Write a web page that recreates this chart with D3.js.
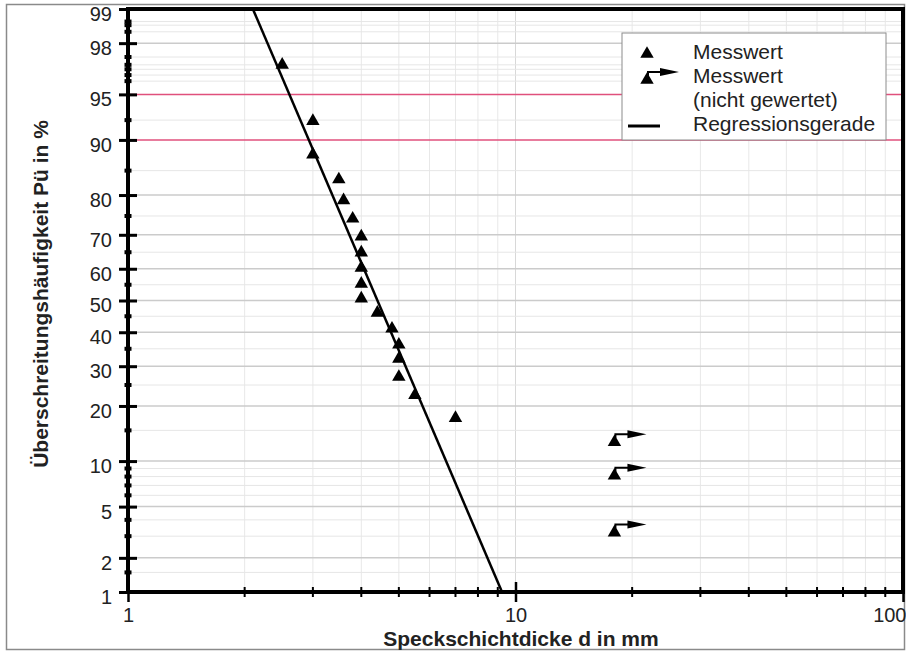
<!DOCTYPE html>
<html>
<head>
<meta charset="utf-8">
<script src="https://cdn.jsdelivr.net/npm/d3@7"></script>
<style>
  body { margin: 0; background: #fff; }
  svg { display: block; font-family: "Liberation Sans", Arial, sans-serif; }
</style>
</head>
<body>
<script>
const width = 906, height = 652;

// Messwerte: Speckschichtdicke d in mm / Überschreitungshäufigkeit Pü in %
const messD = [2.5, 3.0, 3.0, 3.5, 3.6, 3.8, 4.0, 4.0, 4.0, 4.0, 4.0, 4.4, 4.8, 5.0, 5.0, 5.0, 5.5, 7.0];
const messP = [97.0, 92.4, 87.8, 83.3, 78.8, 74.3, 69.5, 64.9, 60.3, 55.3, 50.6, 46.1, 41.1, 36.2, 32.1, 27.1, 22.5, 17.4];
// Messwerte, nicht gewertet
const ngD = [18, 18, 18];
const ngP = [12.9, 8.1, 3.2];
// Regressionsgerade (Endpunkte)
const regD = [2.1, 9.23];
const regP = [99, 1];

const xMajor = [1, 10, 100];
const xMinor = [2, 3, 4, 5, 6, 7, 8, 9, 20, 30, 40, 50, 60, 70, 80, 90];
const yMajor = [1, 2, 5, 10, 20, 30, 40, 50, 60, 70, 80, 90, 95, 98, 99];
const yMinor = [1.5, 3, 4, 6, 7, 8, 9, 15, 25, 35, 45, 55, 65, 75, 85, 92.5, 96, 96.4, 96.75, 97, 97.4, 98.4, 98.6, 98.7];
const redLines = [90, 95];

const legendItems = ["Messwert", "Messwert", "(nicht gewertet)", "Regressionsgerade"];

// inverse normal distribution (Acklam)
function probit(p) {
  const a = [-39.69683028665376, 220.9460984245205, -275.9285104469687, 138.3577518672690, -30.66479806614716, 2.506628277459239];
  const b = [-54.47609879822406, 161.5858368580409, -155.6989798598866, 66.80131188771972, -13.28068155288572];
  const c = [-0.007784894002430293, -0.3223964580411365, -2.400758277161838, -2.549732539343734, 4.374664141464968, 2.938163982698783];
  const d = [0.007784695709041462, 0.3224671290700398, 2.445134137142996, 3.754408661907416];
  const pl = 0.02425;
  if (p < pl) {
    const q = Math.sqrt(-2 * Math.log(p));
    return (((((c[0]*q+c[1])*q+c[2])*q+c[3])*q+c[4])*q+c[5]) / ((((d[0]*q+d[1])*q+d[2])*q+d[3])*q+1);
  }
  if (p > 1 - pl) {
    const q = Math.sqrt(-2 * Math.log(1 - p));
    return -(((((c[0]*q+c[1])*q+c[2])*q+c[3])*q+c[4])*q+c[5]) / ((((d[0]*q+d[1])*q+d[2])*q+d[3])*q+1);
  }
  const q = p - 0.5, r = q * q;
  return (((((a[0]*r+a[1])*r+a[2])*r+a[3])*r+a[4])*r+a[5])*q / (((((b[0]*r+b[1])*r+b[2])*r+b[3])*r+b[4])*r+1);
}

const pl = 128, pr = 903, pt = 9, pb = 592;

const x = d3.scaleLog().domain([1, 100]).range([pl, pr]);
const z = d3.scaleLinear().domain([probit(0.01), probit(0.99)]).range([pb, pt]);
const y = p => z(probit(p / 100));

const svg = d3.select("body").append("svg")
    .attr("width", width)
    .attr("height", height)
    .attr("viewBox", [0, 0, width, height]);

// outer frame
svg.append("rect")
    .attr("x", 6.5).attr("y", 4.5)
    .attr("width", 898).attr("height", 645)
    .attr("fill", "#fff")
    .attr("stroke", "#8a8a8a")
    .attr("stroke-width", 1.5);

// grid
const grid = svg.append("g");
grid.selectAll(".vmin")
  .data(xMinor)
  .join("line")
    .attr("x1", d => x(d)).attr("x2", d => x(d))
    .attr("y1", pt).attr("y2", pb)
    .attr("stroke", "#e8e8e8");
grid.append("line")
    .attr("x1", x(10)).attr("x2", x(10))
    .attr("y1", pt).attr("y2", pb)
    .attr("stroke", "#d8d8d8");
grid.selectAll(".hmin")
  .data(yMinor)
  .join("line")
    .attr("x1", pl).attr("x2", pr)
    .attr("y1", d => y(d)).attr("y2", d => y(d))
    .attr("stroke", "#e6e6e6");
grid.selectAll(".hmaj")
  .data(yMajor.filter(d => !redLines.includes(d)))
  .join("line")
    .attr("x1", pl).attr("x2", pr)
    .attr("y1", d => y(d)).attr("y2", d => y(d))
    .attr("stroke", "#cbcbcb")
    .attr("stroke-width", 1.5);
grid.selectAll(".hred")
  .data(redLines)
  .join("line")
    .attr("x1", pl).attr("x2", pr)
    .attr("y1", d => y(d)).attr("y2", d => y(d))
    .attr("stroke", "#e0507c")
    .attr("stroke-width", 1.5);

// legend box
const lg = svg.append("g");
lg.append("rect")
    .attr("x", 622).attr("y", 33)
    .attr("width", 264).attr("height", 107)
    .attr("fill", "#fff")
    .attr("stroke", "#8c8c8c");

// regression line
svg.append("path")
    .attr("fill", "none")
    .attr("stroke", "#000")
    .attr("stroke-width", 2.5)
    .attr("d", d3.line()(regD.map((d, i) => [x(d), y(regP[i])])));

// axes
const yAxis = svg.append("g")
    .attr("transform", `translate(${pl},0)`)
    .call(d3.axisLeft(z)
      .tickValues(yMajor.map(p => probit(p / 100)))
      .tickFormat((d, i) => yMajor[i])
      .tickSize(9)
      .tickPadding(7))
    .call(g => g.select(".domain").remove())
    .call(g => g.selectAll(".tick line").attr("x2", -9).attr("x1", 9).attr("stroke-width", 3))
    .call(g => g.selectAll(".tick text")
      .attr("y", 5)
      .attr("font-size", 20)
      .attr("font-family", "Liberation Sans, Arial, sans-serif")
      .attr("fill", "#222"));

yAxis.selectAll(".ymin")
  .data(yMinor)
  .join("line")
    .attr("x1", -3.5).attr("x2", 3.5)
    .attr("y1", d => y(d)).attr("y2", d => y(d))
    .attr("stroke", "#000")
    .attr("stroke-width", 4);

const xAxis = svg.append("g")
    .attr("transform", `translate(0,${pb})`)
    .call(d3.axisBottom(x)
      .tickValues(xMajor)
      .tickFormat(d3.format("d"))
      .tickSize(9)
      .tickPadding(7))
    .call(g => g.select(".domain").remove())
    .call(g => g.selectAll(".tick line").attr("y1", -10).attr("y2", 10).attr("stroke-width", 2.5))
    .call(g => g.selectAll(".tick text")
      .attr("font-size", 20)
      .attr("font-family", "Liberation Sans, Arial, sans-serif")
      .attr("fill", "#222"));
xAxis.selectAll(".tick").filter(d => d === 100).select("text")
    .attr("text-anchor", "end").attr("x", 3);

xAxis.selectAll(".xmin")
  .data(xMinor)
  .join("line")
    .attr("x1", d => x(d)).attr("x2", d => x(d))
    .attr("y1", -5).attr("y2", 5)
    .attr("stroke", "#000")
    .attr("stroke-width", 2);

// frame of plot (thick)
svg.append("path")
    .attr("fill", "none")
    .attr("stroke", "#000")
    .attr("stroke-width", 4)
    .attr("d", `M${pl},${pt}H${pr}V${pb}H${pl}Z`);

// markers
const tri = d3.symbol(d3.symbolTriangle, 78);
svg.append("g")
  .selectAll("path")
  .data(messD)
  .join("path")
    .attr("transform", (d, i) => `translate(${x(d)},${y(messP[i])})`)
    .attr("d", tri)
    .attr("fill", "#000");

function arrowMark(g) {
  g.append("path").attr("d", tri).attr("fill", "#000");
  g.append("path")
      .attr("d", "M1,-4V-8H14")
      .attr("fill", "none")
      .attr("stroke", "#000")
      .attr("stroke-width", 2);
  g.append("path")
      .attr("d", "M13,-12L32,-8L13,-4Z")
      .attr("fill", "#000");
}

svg.append("g")
  .selectAll("g")
  .data(ngD)
  .join("g")
    .attr("transform", (d, i) => `translate(${x(d)},${y(ngP[i])})`)
    .each(function() { arrowMark(d3.select(this)); });

// legend content
lg.append("path")
    .attr("transform", "translate(647,54)")
    .attr("d", tri)
    .attr("fill", "#000");
lg.append("g")
    .attr("transform", "translate(647,80)")
    .call(arrowMark);
lg.append("line")
    .attr("x1", 628).attr("x2", 660)
    .attr("y1", 126).attr("y2", 126)
    .attr("stroke", "#000")
    .attr("stroke-width", 3);
lg.selectAll("text")
  .data(legendItems)
  .join("text")
    .attr("x", 693)
    .attr("y", (d, i) => 59 + i * 24)
    .attr("font-size", 21)
    .attr("fill", "#222")
    .text(d => d);

// axis titles
svg.append("text")
    .attr("x", 521).attr("y", 646)
    .attr("text-anchor", "middle")
    .attr("font-size", 21)
    .attr("font-weight", "bold")
    .attr("fill", "#222")
    .text("Speckschichtdicke d in mm");

svg.append("text")
    .attr("transform", "translate(48,294) rotate(-90)")
    .attr("text-anchor", "middle")
    .attr("font-size", 21)
    .attr("font-weight", "bold")
    .attr("fill", "#222")
    .text("Überschreitungshäufigkeit Pü in %");
</script>
</body>
</html>
